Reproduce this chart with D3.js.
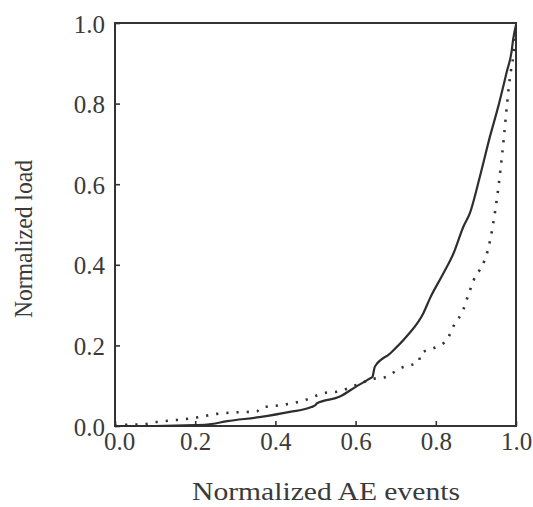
<!DOCTYPE html>
<html>
  <head>
    <meta charset="UTF-8" />
    <title>Normalized load vs AE events</title>
    <script src="https://cdn.jsdelivr.net/npm/d3@7"></script>
    <style>
      body { margin: 0; background: #ffffff; }
      text { font-family: "Liberation Serif", "Times New Roman", Times, serif; fill: #3a3a3a; }
    </style>
  </head>
  <body>
    <svg width="533" height="507" id="mainsvg"></svg>
    <script>
        // data (x = normalized AE events, y = normalized load)
        const solidX = [0, 0.1, 0.2, 0.235, 0.28, 0.36, 0.436, 0.49, 0.5, 0.503, 0.561, 0.603, 0.636, 0.642, 0.648, 0.686, 0.727, 0.769, 0.786, 0.819, 0.844, 0.869, 0.885, 0.91, 0.935, 0.955, 0.977, 0.989, 0.993, 1.0];
        const solidY = [0, 0, 0.002, 0.004, 0.012, 0.022, 0.035, 0.047, 0.052, 0.056, 0.073, 0.099, 0.118, 0.122, 0.147, 0.18, 0.222, 0.28, 0.318, 0.379, 0.428, 0.495, 0.528, 0.619, 0.718, 0.79, 0.879, 0.929, 0.96, 0.995];
        const dottedX = [0, 0.03, 0.07, 0.104, 0.154, 0.204, 0.254, 0.303, 0.353, 0.366, 0.416, 0.466, 0.528, 0.553, 0.603, 0.644, 0.673, 0.711, 0.758, 0.762, 0.786, 0.806, 0.827, 0.85, 0.865, 0.881, 0.899, 0.914, 0.931, 0.941, 0.949, 0.956, 0.962, 0.97, 0.977, 0.985, 0.993, 1.0];
        const dottedY = [0, 0.003, 0.004, 0.01, 0.015, 0.021, 0.03, 0.034, 0.036, 0.046, 0.052, 0.062, 0.083, 0.085, 0.102, 0.117, 0.121, 0.143, 0.16, 0.18, 0.19, 0.198, 0.213, 0.259, 0.28, 0.325, 0.372, 0.394, 0.441, 0.49, 0.54, 0.592, 0.643, 0.718, 0.792, 0.867, 0.917, 1.0];
        const tickValues = [0, 0.2, 0.4, 0.6, 0.8, 1.0];
        const xAxisLabel = 'Normalized AE events';
        const yAxisLabel = 'Normalized load';

        const serif = '"Liberation Serif", "Times New Roman", Times, serif';
        const svg = d3.select('#mainsvg');
        const margin = {top: 23, right: 17, bottom: 81, left: 115};
        const width = +svg.attr('width');
        const height = +svg.attr('height');
        const innerWidth = width - margin.left - margin.right;
        const innerHeight = height - margin.top - margin.bottom;

        const xScale = d3.scaleLinear().domain([0, 1]).range([0, innerWidth]);
        const yScale = d3.scaleLinear().domain([0, 1]).range([innerHeight, 0]);

        const g = svg.append('g')
          .attr('transform', `translate(${margin.left}, ${margin.top})`);

        // ticks point inward, labels in serif
        const xAxis = d3.axisBottom(xScale)
          .tickValues(tickValues)
          .tickFormat(d3.format('.1f'))
          .tickSize(-5)
          .tickPadding(6);
        const yAxis = d3.axisLeft(yScale)
          .tickValues(tickValues)
          .tickFormat(d3.format('.1f'))
          .tickSize(-5)
          .tickPadding(10);

        const xAxisGroup = g.append('g')
          .attr('transform', `translate(0, ${innerHeight})`)
          .call(xAxis);
        const yAxisGroup = g.append('g').call(yAxis);

        // d3 axis sets font-family on the group, override it
        [xAxisGroup, yAxisGroup].forEach(ax => {
          ax.attr('font-family', serif).attr('font-size', 25);
          ax.select('.domain').remove();
          ax.selectAll('line').attr('stroke', '#333').attr('stroke-width', 1.6);
          ax.selectAll('text')
            .style('font-family', serif)
            .attr('fill', '#3a3a3a');
        });
        xAxisGroup.selectAll('text')
          .attr('dy', '0.71em')
          .attr('dx', d => d === 0 ? 4 : 0); // first label sits a bit right of its tick
        yAxisGroup.selectAll('text').attr('dy', '0.36em');

        // frame
        g.append('rect')
          .attr('x', 0).attr('y', 0)
          .attr('width', innerWidth).attr('height', innerHeight)
          .attr('fill', 'none')
          .attr('stroke', '#333')
          .attr('stroke-width', 2);

        const line = d3.line()
          .curve(d3.curveMonotoneX)
          .x(d => xScale(d[0]))
          .y(d => yScale(d[1]));

        const solid = solidX.map((x, i) => [x, solidY[i]]);
        const dotted = dottedX.map((x, i) => [x, dottedY[i]]);

        g.append('path')
          .datum(dotted)
          .attr('d', line)
          .attr('fill', 'none')
          .attr('stroke', '#333')
          .attr('stroke-width', 2.6)
          .attr('stroke-dasharray', '2.2,8');

        g.append('path')
          .datum(solid)
          .attr('d', line)
          .attr('fill', 'none')
          .attr('stroke', '#2e2e2e')
          .attr('stroke-width', 2.2)
          .attr('stroke-linejoin', 'round');

        // axis titles
        svg.append('text')
          .attr('x', 326)
          .attr('y', 500)
          .attr('text-anchor', 'middle')
          .attr('font-size', 26)
          .style('font-family', serif)
          .attr('textLength', 268)
          .attr('lengthAdjust', 'spacingAndGlyphs')
          .text(xAxisLabel);

        svg.append('text')
          .attr('transform', 'translate(32, 239) rotate(-90)')
          .attr('text-anchor', 'middle')
          .attr('font-size', 25)
          .style('font-family', serif)
          .attr('textLength', 158)
          .attr('lengthAdjust', 'spacingAndGlyphs')
          .text(yAxisLabel);
    </script>
  </body>
</html>
